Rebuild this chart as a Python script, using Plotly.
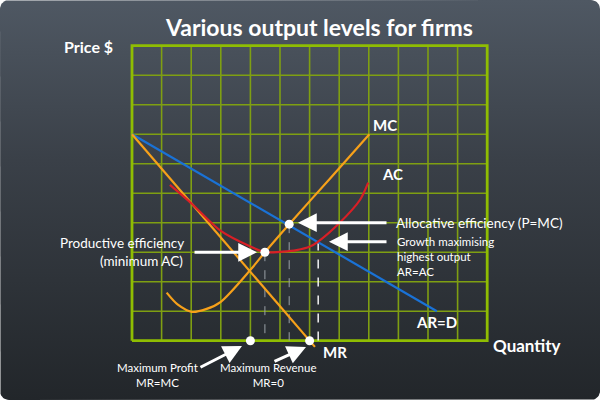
import numpy as np
import plotly.graph_objects as go

# ---------------- data ----------------
title = "Various output levels for firms"
x_grid = list(range(0, 13))          # quantity grid 0..12
y_grid = list(range(0, 11))          # price grid 0..10

ard_x = [0, 10.3]
ard_y = [7, 1.0]

mr_x = [0, 6.18]
mr_y = [7, -0.21]

mc_x = [1.17, 1.55, 2.02, 2.5, 3.0, 4.0, 4.49, 5.31, 6.7, 8.02]
mc_y = [1.63, 1.22, 0.98, 1.07, 1.32, 2.40, 3.0, 3.95, 5.51, 7.0]

ac_x = [1.28, 2.0, 3.0, 4.0, 4.49, 5.1, 5.56, 6.01, 6.29, 7.0, 7.7, 7.98]
ac_y = [5.28, 4.66, 3.72, 3.19, 3.0, 3.02, 3.07, 3.19, 3.36, 3.98, 4.77, 5.36]

pt_x = [4.49, 5.31, 4.0, 6.0]        # productive, allocative, max profit, max revenue
pt_y = [3.0, 3.95, 0, 0]

grey_dash_x = [4.49, 5.31]
grey_dash_y = [3.0, 3.95]
white_dash_x = [6.29]
white_dash_y = [3.36]

# ---------------- geometry helpers ----------------
W, H = 600, 400
X0, Y0, SX, SY = 132.0, 340.7, 29.6, 29.5
def px2x(p): return (p - X0) / SX
def py2y(p): return (Y0 - p) / SY
def pp(x, y): return x / W, 1 - y / H

fig = go.Figure()

# background rounded rect with vertical gradient
r = 9
bx, by = [], []
for cx, cy, a0 in [(W - r, r, 0), (r, r, 90), (r, H - r, 180), (W - r, H - r, 270)]:
    for a in np.linspace(a0, a0 + 90, 10):
        bx.append(cx + r * np.cos(np.radians(a)))
        by.append(cy - r * np.sin(np.radians(a)))
bx.append(bx[0]); by.append(by[0])
fig.add_trace(go.Scatter(
    x=[px2x(v) for v in bx], y=[py2y(v) for v in by], mode="lines",
    line=dict(width=0), fill="toself",
    fillgradient=dict(type="vertical", colorscale=[[0, "#22262a"], [0.6, "#3a4048"], [1, "#4f5863"]]),
    hoverinfo="skip", showlegend=False))

# grid
gxs, gys = [], []
for gx in x_grid[1:-1]:
    gxs += [gx, gx, None]; gys += [y_grid[0], y_grid[-1], None]
for gy in y_grid[1:-1]:
    gxs += [x_grid[0], x_grid[-1], None]; gys += [gy, gy, None]
fig.add_trace(go.Scatter(x=gxs, y=gys, mode="lines", line=dict(color="#7f9f12", width=1.6),
                         hoverinfo="skip", showlegend=False))
fig.add_trace(go.Scatter(x=[x_grid[0], x_grid[-1], x_grid[-1], x_grid[0], x_grid[0]],
                         y=[y_grid[0], y_grid[0], y_grid[-1], y_grid[-1], y_grid[0]],
                         mode="lines", line=dict(color="#8fbd02", width=2.8),
                         hoverinfo="skip", showlegend=False))

# dashed drop lines
for dx, dy in zip(grey_dash_x, grey_dash_y):
    fig.add_trace(go.Scatter(x=[dx, dx], y=[dy, 0], mode="lines",
                             line=dict(color="#9aa0a6", width=1, dash="dash"),
                             hoverinfo="skip", showlegend=False))
for dx, dy in zip(white_dash_x, white_dash_y):
    fig.add_trace(go.Scatter(x=[dx, dx], y=[dy, 0], mode="lines",
                             line=dict(color="#ffffff", width=1.4, dash="dash"),
                             hoverinfo="skip", showlegend=False))

# curves
fig.add_trace(go.Scatter(x=ard_x, y=ard_y, mode="lines", line=dict(color="#1a72d6", width=2.2),
                         showlegend=False))
fig.add_trace(go.Scatter(x=mr_x, y=mr_y, mode="lines", line=dict(color="#f7a11a", width=2.2),
                         showlegend=False))
fig.add_trace(go.Scatter(x=mc_x, y=mc_y, mode="lines", line=dict(color="#f7a11a", width=2.2, shape="spline", smoothing=0.8),
                         showlegend=False))
fig.add_trace(go.Scatter(x=ac_x, y=ac_y, mode="lines", line=dict(color="#d91f26", width=2.2, shape="spline", smoothing=0.8),
                         showlegend=False))
fig.add_trace(go.Scatter(x=pt_x, y=pt_y, mode="markers", marker=dict(color="white", size=9),
                         showlegend=False))

ann = []
def text(s, x, y, size, bold=False, xanchor="center", align="center"):
    px_, py_ = pp(x, y)
    ann.append(dict(text=("<b>%s</b>" % s) if bold else s, x=px_, y=py_, xref="paper", yref="paper",
                    xanchor=xanchor, yanchor="middle", showarrow=False, align=align,
                    font=dict(family="Lato, Open Sans, sans-serif", size=size, color="white")))
def arrow(tx, ty, hx, hy):
    px_, py_ = pp(hx, hy)
    ann.append(dict(text="", x=px_, y=py_, xref="paper", yref="paper", ax=tx - hx, ay=ty - hy,
                    showarrow=True, arrowhead=2, arrowsize=1.25, arrowwidth=3, arrowcolor="white",
                    standoff=0))

text(title, 319, 27, 23, bold=True)
text("Price $", 88, 46, 16, bold=True)
text("Quantity", 527, 345, 17, bold=True)
text("MC", 385, 125, 15, bold=True)
text("AC", 392, 174, 15, bold=True)
text("AR=D", 436, 322, 15, bold=True)
text("MR", 321, 352, 15, bold=True, xanchor="left")

text("Allocative efficiency (P=MC)", 394, 222.5, 13.5, xanchor="left")
text("Growth maximising<br>highest output<br>AR=AC", 395, 256, 11.5, xanchor="left", align="left")
text("Productive efficiency", 186, 243, 13.5, xanchor="right")
text("(minimum AC)", 185, 261, 13.5, xanchor="right")
text("Maximum Profit<br>MR=MC", 157, 375, 11.5)
text("Maximum Revenue<br>MR=0", 268, 375, 11.5)

arrow(388, 222.7, 298, 222.7)
arrow(388, 241.7, 329, 241.7)
arrow(193, 252.3, 257, 252.3)
arrow(199, 368, 242, 346)
arrow(273, 362, 306, 347)

fig.update_layout(
    width=W, height=H, autosize=False, margin=dict(l=0, r=0, t=0, b=0, pad=0),
    paper_bgcolor="white", plot_bgcolor="rgba(0,0,0,0)",
    xaxis=dict(range=[px2x(0), px2x(W)], visible=False, fixedrange=True),
    yaxis=dict(range=[py2y(H), py2y(0)], visible=False, fixedrange=True),
    annotations=ann, showlegend=False,
)
fig.write_html("out.html", config={"displayModeBar": False},
               post_script="document.body.style.margin='0';")
